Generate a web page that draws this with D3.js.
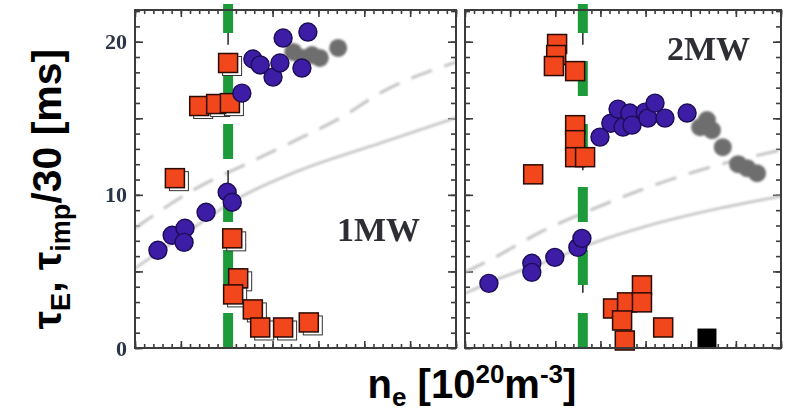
<!DOCTYPE html>
<html>
<head>
<meta charset="utf-8">
<script src="https://cdn.jsdelivr.net/npm/d3@7"></script>
<style>
  body { margin: 0; background: #fff; }
  svg { display: block; }
</style>
</head>
<body>
<svg id="chart" width="787" height="412"></svg>
<script>
// ---- data: density (10^20 m^-3) vs confinement time (ms) ----
const panelNames = ["1MW", "2MW"];
const yTickLabels = [0, 10, 20];

// τE, 1 MW
const tauE1 = [[0.050,6.38],[0.081,7.36],[0.109,7.82],[0.107,6.90],[0.155,8.86],[0.201,10.17],[0.212,9.52],
  [0.233,16.64],[0.257,18.87],[0.273,18.48],[0.301,17.69],[0.316,18.61],[0.323,20.24],[0.364,18.28],[0.377,20.63]];
// τE without impurity measurement, 1 MW
const tauEgrey1 = [[0.345,19.33],[0.366,18.94],[0.386,19.13],[0.403,18.94],[0.443,19.59]];
// τimp/30, 1 MW
const tauImp1 = [[0.203,18.61],[0.140,15.80],[0.177,15.93],[0.207,15.99],[0.087,11.09],[0.212,7.16],
  [0.225,4.55],[0.214,3.50],[0.257,2.52],[0.273,1.34],[0.323,1.34],[0.379,1.67]];
// scaling curves, 1 MW
const scalingDashed1 = [[0,7.82],[0.126,10.30],[0.251,12.13],[0.360,13.70],[0.447,15.01],[0.534,16.64],[0.700,18.67]];
const scalingSolid1 = [[0,5.20],[0.098,7.23],[0.229,9.84],[0.360,11.61],[0.534,13.37],[0.700,15.04]];
const threshold1 = 0.203;
const thresholdErr1 = [[19.8,20.7],[10.5,11.6]];

// τE, 2 MW
const tauE2 = [[0.053,4.22],[0.148,5.53],[0.148,4.94],[0.199,5.92],[0.250,6.57],[0.259,7.16],[0.299,13.77],
  [0.323,14.68],[0.339,15.60],[0.350,14.42],[0.365,15.34],[0.370,14.55],[0.399,15.40],[0.405,15.01],
  [0.421,15.99],[0.443,15.01],[0.492,15.34]];
const tauEgrey2 = [[0.521,14.42],[0.536,14.88],[0.547,14.22],[0.571,13.11],[0.605,12.00],[0.625,11.74],[0.647,11.41]];
const tauImp2 = [[0.204,19.85],[0.202,19.13],[0.197,18.41],[0.244,18.08],[0.244,14.55],[0.244,13.57],
  [0.244,12.46],[0.266,12.46],[0.151,11.34],[0.328,2.58],[0.359,2.98],[0.392,4.09],[0.392,2.98],
  [0.348,1.80],[0.354,0.49],[0.439,1.34]];
const tauImpSat2 = [[0.536,0.65]];
const scalingDashed2 = [[0,4.94],[0.062,5.85],[0.166,7.55],[0.277,8.99],[0.388,10.30],[0.520,11.61],[0.700,12.92]];
const scalingSolid2 = [[0,3.56],[0.077,4.55],[0.188,5.72],[0.283,6.84],[0.409,8.01],[0.564,9.12],[0.700,9.91]];
const threshold2 = 0.261;
const thresholdErr2 = [[19.8,20.7],[11.6,12.3],[3.6,4.4]];

const xDomain = [0, 0.7];
const yDomain = [0, 22.07];

// ---- layout ----
const svg = d3.select("#chart");
const plotTop = 10, plotBottom = 348;
const panels = [
  { name: panelNames[0], x0: 135, x1: 456, tauE: tauE1, grey: tauEgrey1, imp: tauImp1, sat: [],
    dashed: scalingDashed1, solid: scalingSolid1, thr: threshold1, thrErr: thresholdErr1,
    label: { x: 337, y: 241 }, ghost: true },
  { name: panelNames[1], x0: 465, x1: 781, tauE: tauE2, grey: tauEgrey2, imp: tauImp2, sat: tauImpSat2,
    dashed: scalingDashed2, solid: scalingSolid2, thr: threshold2, thrErr: thresholdErr2,
    label: { x: 667, y: 60 }, ghost: false }
];

const y = d3.scaleLinear().domain(yDomain).range([plotBottom, plotTop]);

const defs = svg.append("defs");
defs.append("filter").attr("id", "soft").attr("x", "-20%").attr("y", "-20%").attr("width", "140%").attr("height", "140%")
  .append("feGaussianBlur").attr("stdDeviation", 0.9);
defs.append("filter").attr("id", "softer").attr("x", "-20%").attr("y", "-20%").attr("width", "140%").attr("height", "140%")
  .append("feGaussianBlur").attr("stdDeviation", 0.5);

const frameColor = "#3c3c3c";
const minorX = d3.range(0, 0.7001, 0.02);
const majorX = d3.range(0, 0.7001, 0.1);
const minorY = d3.range(0, 22.07, 1);
const majorY = d3.range(0, 22.07, 5);

panels.forEach((p, i) => {
  const x = d3.scaleLinear().domain(xDomain).range([p.x0, p.x1]);
  const g = svg.append("g");
  const clipId = "clip" + i;
  defs.append("clipPath").attr("id", clipId).append("rect")
    .attr("x", p.x0).attr("y", 0).attr("width", p.x1 - p.x0).attr("height", plotBottom + 6);

  // ticks on all four sides, pointing inward
  const tickGroups = [
    [d3.axisBottom(x).tickValues(minorX).tickSizeInner(-4), `translate(0,${plotBottom})`],
    [d3.axisBottom(x).tickValues(majorX).tickSizeInner(-7), `translate(0,${plotBottom})`],
    [d3.axisTop(x).tickValues(minorX).tickSizeInner(-4), `translate(0,${plotTop})`],
    [d3.axisTop(x).tickValues(majorX).tickSizeInner(-7), `translate(0,${plotTop})`],
    [d3.axisLeft(y).tickValues(minorY).tickSizeInner(-5), `translate(${p.x0},0)`],
    [d3.axisLeft(y).tickValues(majorY).tickSizeInner(-8), `translate(${p.x0},0)`],
    [d3.axisRight(y).tickValues(minorY).tickSizeInner(-5), `translate(${p.x1},0)`],
    [d3.axisRight(y).tickValues(majorY).tickSizeInner(-8), `translate(${p.x1},0)`]
  ];
  tickGroups.forEach(([ax, tr]) => {
    const a = g.append("g").attr("transform", tr).call(ax.tickSizeOuter(0).tickFormat(""));
    a.select(".domain").remove();
    a.selectAll("line").attr("stroke", frameColor).attr("stroke-width", 1.6);
  });

  const plot = g.append("g").attr("clip-path", `url(#${clipId})`);
  const line = d3.line().x(d => x(d[0])).y(d => y(d[1])).curve(d3.curveMonotoneX);

  // scaling-law curves
  plot.append("path").datum(p.dashed).attr("d", line)
    .attr("fill", "none").attr("stroke", "#c4c4c4").attr("stroke-width", 3)
    .attr("stroke-dasharray", "22,13").attr("filter", "url(#soft)");
  plot.append("path").datum(p.solid).attr("d", line)
    .attr("fill", "none").attr("stroke", "#c4c4c4").attr("stroke-width", 2.6).attr("filter", "url(#soft)");

  // error bar of the threshold density
  g.selectAll(null).data(p.thrErr).join("line")
    .attr("x1", x(p.thr)).attr("x2", x(p.thr))
    .attr("y1", d => y(d[0])).attr("y2", d => y(d[1]))
    .attr("stroke", "#333").attr("stroke-width", 1.6);

  // threshold density (green dashed), dashes counted up from the axis
  g.append("line")
    .attr("x1", x(p.thr)).attr("x2", x(p.thr)).attr("y1", plotBottom).attr("y2", 4)
    .attr("stroke", "#1d9b3b").attr("stroke-width", 10).attr("stroke-dasharray", "35,28");

  // grey τE points
  plot.append("g").attr("filter", "url(#soft)").selectAll("circle").data(p.grey).join("circle")
    .attr("cx", d => x(d[0])).attr("cy", d => y(d[1])).attr("r", 9)
    .attr("fill", "#6e6e6e");

  const s = 19;
  const sq = g.append("g").attr("filter", "url(#softer)");
  if (p.ghost) {
    sq.selectAll("rect.ghost").data(p.imp).join("rect").attr("class", "ghost")
      .attr("x", d => x(d[0]) - s / 2 + 4).attr("y", d => y(d[1]) - s / 2 + 3)
      .attr("width", s).attr("height", s)
      .attr("fill", "#fff").attr("stroke", "#333").attr("stroke-width", 1);
  }
  sq.selectAll("rect.imp").data(p.imp).join("rect").attr("class", "imp")
    .attr("x", d => x(d[0]) - s / 2).attr("y", d => y(d[1]) - s / 2)
    .attr("width", s).attr("height", s)
    .attr("fill", "#f2471d").attr("stroke", "#2a0900").attr("stroke-width", 1.5);
  sq.selectAll("rect.sat").data(p.sat).join("rect").attr("class", "sat")
    .attr("x", d => x(d[0]) - s / 2).attr("y", d => y(d[1]) - s / 2)
    .attr("width", s).attr("height", s)
    .attr("fill", "#050505");

  // τE points
  g.append("g").attr("filter", "url(#softer)").selectAll("circle").data(p.tauE).join("circle")
    .attr("cx", d => x(d[0])).attr("cy", d => y(d[1])).attr("r", 9)
    .attr("fill", "#3d1ea6").attr("stroke", "#1b0b55").attr("stroke-width", 1.4);

  // frame
  g.append("rect").attr("x", p.x0).attr("y", plotTop).attr("width", p.x1 - p.x0).attr("height", plotBottom - plotTop)
    .attr("fill", "none").attr("stroke", frameColor).attr("stroke-width", 2);

  // heating power label
  g.append("text").attr("x", p.label.x).attr("y", p.label.y)
    .attr("font-family", "'Liberation Serif', 'Times New Roman', serif").attr("font-weight", "bold")
    .attr("font-size", 34).attr("fill", "#2e2e36").attr("filter", "url(#softer)")
    .text(p.name);
});

// y tick labels on the left panel
const yLab = svg.append("g").attr("transform", `translate(${panels[0].x0},0)`)
  .call(d3.axisLeft(y).tickValues(yTickLabels).tickSize(0).tickPadding(8).tickFormat(d3.format("d")));
yLab.select(".domain").remove();
yLab.selectAll("text")
  .attr("font-family", "'Liberation Serif', 'Times New Roman', serif").attr("font-weight", "bold")
  .attr("font-size", 22).attr("fill", "#2c3444").attr("filter", "url(#softer)");

// axis titles
const sans = "'Liberation Sans', Arial, Helvetica, sans-serif";
const yTitle = svg.append("text")
  .attr("transform", "translate(61,189) rotate(-90)")
  .attr("text-anchor", "middle").attr("font-family", sans).attr("font-weight", "bold")
  .attr("font-size", 41).attr("fill", "#000");
yTitle.append("tspan").text("τ");
yTitle.append("tspan").attr("font-size", 27).attr("dy", 9).text("E");
yTitle.append("tspan").attr("dy", -9).text(", τ");
yTitle.append("tspan").attr("font-size", 27).attr("dy", 9).text("imp");
yTitle.append("tspan").attr("dy", -9).text("/30 [ms]");

const xTitle = svg.append("text")
  .attr("x", 472).attr("y", 398)
  .attr("text-anchor", "middle").attr("font-family", sans).attr("font-weight", "bold")
  .attr("font-size", 40).attr("fill", "#000");
xTitle.append("tspan").text("n");
xTitle.append("tspan").attr("font-size", 26).attr("dy", 8).text("e");
xTitle.append("tspan").attr("dy", -8).text(" [10");
xTitle.append("tspan").attr("font-size", 26).attr("dy", -15).text("20");
xTitle.append("tspan").attr("dy", 15).text("m");
xTitle.append("tspan").attr("font-size", 26).attr("dy", -15).text("-3");
xTitle.append("tspan").attr("dy", 15).text("]");
</script>
</body>
</html>
